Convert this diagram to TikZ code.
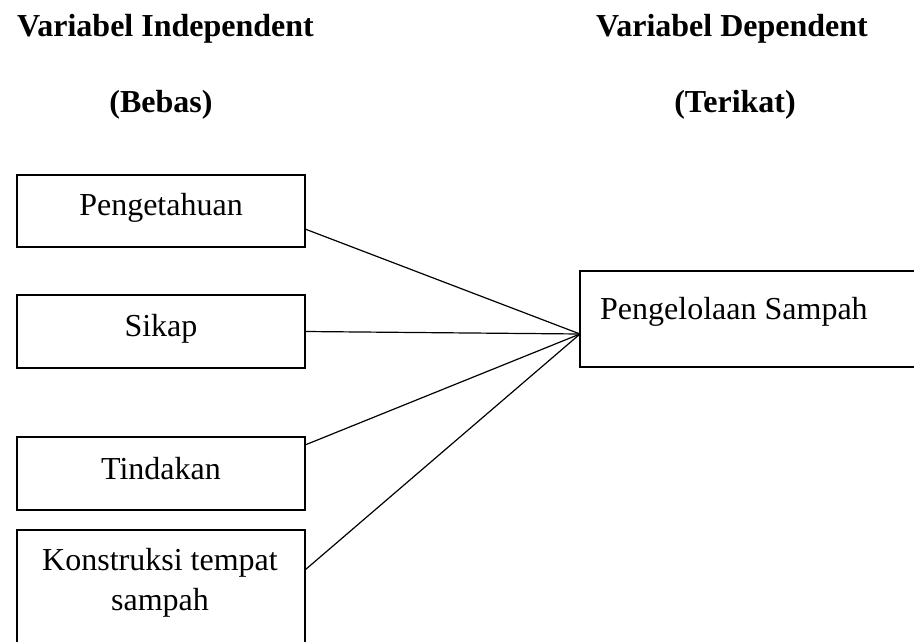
\documentclass[tikz,border=0pt]{standalone}
\usepackage{fontspec}
\setmainfont{Liberation Serif}
\begin{document}
\begin{tikzpicture}[x=1pt,y=-1pt,
  box/.style={draw, line width=2.2pt, inner sep=0pt, outer sep=0pt, anchor=north west},
  txt/.style={inner sep=0pt, anchor=base, font=\fontsize{32}{40}\selectfont},
  ttl/.style={inner sep=0pt, anchor=base, font=\fontsize{32}{40}\selectfont\bfseries},
  conn/.style={draw, line width=1.2pt}]
\useasboundingbox (0,0) rectangle (914,642);
% titles
\node[ttl] (h1) at (165.5,37) {Variabel Independent};
\node[ttl] (h2) at (161,113) {(Bebas)};
\node[ttl] (h3) at (732,37) {Variabel Dependent};
\node[ttl] (h4) at (735,113) {(Terikat)};
% boxes
\node[box, minimum width=288, minimum height=72] (b1) at (17,175) {};
\node[box, minimum width=288, minimum height=73] (b2) at (17,295) {};
\node[box, minimum width=288, minimum height=73] (b3) at (17,437) {};
\node[box, minimum width=288, minimum height=140] (b4) at (17,530) {};
\node[box, minimum width=360, minimum height=96] (r) at (580,271) {};
% texts
\node[txt] (t1) at (161,215) {Pengetahuan};
\node[txt] (t2) at (161,336) {Sikap};
\node[txt] (t3) at (161,479) {Tindakan};
\node[txt] (t4a) at (160,570) {Konstruksi tempat};
\node[txt] (t4b) at (160,610) {sampah};
\node[txt, anchor=base west] (tr) at (600,319) {Pengelolaan Sampah};
% connectors
\coordinate (p) at (580,334);
\draw[conn] ([yshift=-18pt]b1.east) -- (p);
\draw[conn] (b2.east) -- (p);
\draw[conn] ([yshift=-8pt]b3.north east) -- (p);
\draw[conn] ([yshift=-40pt]b4.north east) -- (p);
\end{tikzpicture}
\end{document}
